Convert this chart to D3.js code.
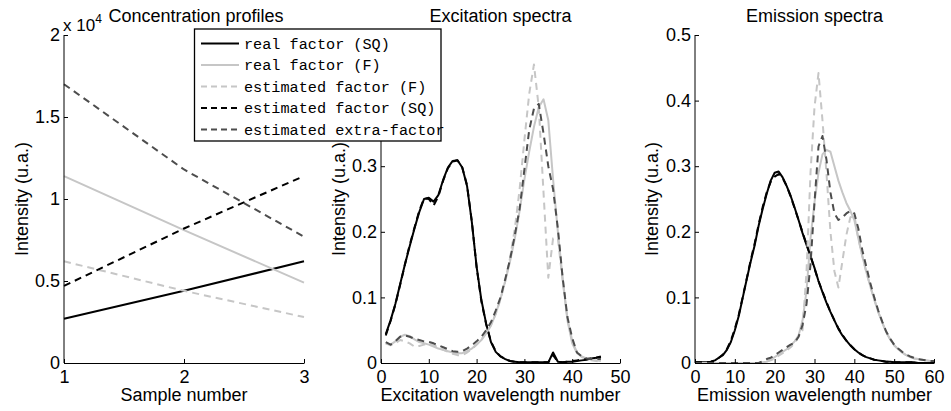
<!DOCTYPE html>
<html><head><meta charset="utf-8">
<script src="https://cdn.jsdelivr.net/npm/d3@7"></script>
<style>
body{margin:0;background:#fff}
svg{display:block}
text{font-family:"Liberation Sans",Arial,sans-serif;fill:#000}
text.mono{font-family:"Liberation Mono","Courier New",monospace}
</style>
</head><body>
<svg id="c" width="951" height="411"></svg>
<script>
// ---------- DATA ----------
const seriesNames = ["real factor (SQ)", "real factor (F)", "estimated factor (F)", "estimated factor (SQ)", "estimated extra-factor"];

// Concentration profiles (raw intensities)
const concSamples = [1, 2, 3];
const concRealSQ = [2700, 4400, 6200];
const concRealF  = [11400, 8100, 4900];
const concEstF   = [6200, 4400, 2800];
const concEstSQ  = [4700, 8200, 11400];
const concExtra  = [17000, 11800, 7700];
const concTicksX = [1, 2, 3];
const concTicksY = [0, 5000, 10000, 15000, 20000];

// Excitation spectra (wavelength numbers 1..46)
const excIndex = d3.range(1, 47);
const excRealSQ = [0.044,0.065,0.090,0.120,0.150,0.178,0.205,0.230,0.250,0.252,
                   0.246,0.256,0.279,0.298,0.308,0.309,0.298,0.270,0.215,0.147,
                   0.096,0.060,0.032,0.017,0.010,0.006,0.003,0.002,0.001,0.001,
                   0.001,0.001,0.001,0.001,0.001,0.016,0.002,0.001,0.002,0.002,
                   0.003,0.004,0.005,0.007,0.008,0.010];
const excRealF  = [0.030,0.028,0.033,0.040,0.043,0.041,0.036,0.032,0.030,0.028,
                   0.025,0.022,0.020,0.018,0.016,0.015,0.015,0.018,0.022,0.028,
                   0.035,0.045,0.057,0.075,0.098,0.125,0.155,0.190,0.232,0.280,
                   0.322,0.360,0.390,0.402,0.370,0.280,0.200,0.130,0.065,0.030,
                   0.015,0.010,0.007,0.005,0.004,0.003];
const excEstF   = [0.030,0.027,0.030,0.035,0.033,0.030,0.025,0.026,0.028,0.029,
                   0.027,0.024,0.020,0.017,0.014,0.012,0.012,0.016,0.021,0.028,
                   0.036,0.046,0.058,0.075,0.097,0.125,0.160,0.205,0.265,0.340,
                   0.410,0.455,0.390,0.260,0.130,0.190,0.190,0.125,0.068,0.034,
                   0.016,0.009,0.006,0.004,0.003,0.002];
const excEstSQ  = [0.042,0.064,0.089,0.119,0.150,0.180,0.206,0.232,0.251,0.250,
                   0.240,0.254,0.278,0.297,0.307,0.309,0.298,0.271,0.216,0.146,
                   0.094,0.059,0.033,0.018,0.010,0.006,0.003,0.002,0.001,0.001,
                   0.001,0.001,0.001,0.001,0.001,0.012,0.002,0.001,0.002,0.003,
                   0.004,0.005,0.006,0.007,0.008,0.009];
const excExtra  = [0.032,0.028,0.033,0.040,0.042,0.040,0.037,0.035,0.033,0.032,
                   0.030,0.027,0.024,0.021,0.018,0.017,0.018,0.022,0.027,0.033,
                   0.040,0.050,0.062,0.080,0.100,0.128,0.158,0.195,0.235,0.295,
                   0.355,0.388,0.395,0.350,0.300,0.265,0.205,0.130,0.070,0.038,
                   0.016,0.010,0.007,0.006,0.006,0.006];
const excTicksX = [0, 10, 20, 30, 40, 50];
const excTicksY = [0, 0.1, 0.2, 0.3];          // 0.4 and 0.5 sit under the legend
const emTicksY  = [0, 0.1, 0.2, 0.3, 0.4, 0.5];

// Emission spectra (wavelength numbers 0..60)
const emIndex = d3.range(0, 61);
const emRealSQ = [0.001,0.001,0.001,0.001,0.002,0.004,0.008,0.012,0.020,0.032,
                  0.050,0.072,0.100,0.128,0.155,0.180,0.210,0.235,0.258,0.278,
                  0.290,0.292,0.283,0.270,0.255,0.237,0.218,0.198,0.180,0.163,
                  0.145,0.125,0.108,0.092,0.078,0.065,0.052,0.042,0.034,0.027,
                  0.021,0.016,0.012,0.009,0.007,0.005,0.004,0.003,0.002,0.002,
                  0.001,0.001,0.001,0.001,0.001,0.001,0.000,0.000,0.000,0.000,0.000];
const emRealF  = [0,0,0,0,0,0,0,0,0,0,0,0,0,0,0,0,0,0.001,
                  0.002,0.005,0.009,0.013,0.017,0.021,0.026,0.033,0.042,0.065,
                  0.110,0.190,0.245,0.290,0.318,0.325,0.322,0.300,0.278,0.260,
                  0.244,0.232,0.218,0.190,0.163,0.139,0.117,0.097,0.078,0.062,
                  0.047,0.036,0.027,0.021,0.016,0.012,0.009,0.007,0.006,0.005,
                  0.004,0.003,0.003];
const emEstF   = [0,0,0,0,0,0,0,0,0,0,0,0,0,0,0,0,0,0.001,
                  0.002,0.004,0.007,0.011,0.015,0.019,0.024,0.030,0.040,0.050,
                  0.140,0.290,0.390,0.442,0.370,0.290,0.200,0.140,0.115,0.155,
                  0.195,0.222,0.225,0.190,0.163,0.139,0.117,0.097,0.078,0.062,
                  0.047,0.036,0.027,0.021,0.016,0.012,0.009,0.007,0.006,0.005,
                  0.004,0.003,0.003];
const emEstSQ  = [0.001,0.001,0.001,0.001,0.002,0.004,0.008,0.013,0.021,0.034,
                  0.052,0.074,0.101,0.129,0.157,0.183,0.212,0.238,0.260,0.276,
                  0.284,0.288,0.282,0.270,0.254,0.236,0.218,0.199,0.181,0.163,
                  0.144,0.125,0.109,0.093,0.078,0.065,0.053,0.043,0.034,0.027,
                  0.021,0.016,0.012,0.009,0.007,0.005,0.004,0.003,0.002,0.002,
                  0.001,0.001,0.001,0.001,0.001,0.001,0.000,0.000,0.000,0.000,0.000];
const emExtra  = [0,0,0,0,0,0,0,0,0,0,0,0,0,0,0,0,0,0.003,
                  0.006,0.008,0.012,0.016,0.020,0.024,0.028,0.031,0.040,0.058,
                  0.090,0.150,0.245,0.330,0.346,0.310,0.260,0.228,0.218,0.222,
                  0.228,0.232,0.228,0.205,0.172,0.147,0.122,0.100,0.080,0.063,
                  0.048,0.037,0.028,0.022,0.017,0.013,0.010,0.008,0.006,0.005,
                  0.004,0.003,0.003];
const emTicksX = [0, 10, 20, 30, 40, 50, 60];

// ---------- STYLES ----------
const styles = [
  {color:"#000000", dash:null,  w:2},
  {color:"#c6c6c6", dash:null,  w:2},
  {color:"#c6c6c6", dash:"7,5", w:2},
  {color:"#000000", dash:"7,5", w:2},
  {color:"#4d4d4d", dash:"7,5", w:2}
];

const svg = d3.select("#c");
const FS = 18;

function drawPanel(cfg){
  const x = d3.scaleLinear().domain(cfg.xDomain).range([cfg.left, cfg.right]);
  const y = d3.scaleLinear().domain(cfg.yDomain).range([cfg.bottom, cfg.top]);
  const g = svg.append("g");

  cfg.series.forEach((vals, k) => {
    const st = styles[k];
    const line = d3.line().x((d,i)=>x(cfg.xs[i])).y(d=>y(d));
    g.append("path").datum(vals)
      .attr("d", line)
      .attr("fill","none")
      .attr("stroke", st.color)
      .attr("stroke-width", st.w)
      .attr("stroke-linejoin","round")
      .attr("stroke-dasharray", st.dash);
  });

  const ax = d3.axisBottom(x).tickValues(cfg.ticksX).tickSizeInner(-4).tickSizeOuter(0).tickPadding(7)
      .tickFormat(d3.format("d"));
  const gx = g.append("g").attr("transform",`translate(0,${cfg.bottom})`).call(ax);
  const ay = d3.axisLeft(y).tickValues(cfg.ticksY).tickSizeInner(-4).tickSizeOuter(0).tickPadding(4)
      .tickFormat(cfg.fmtY);
  const gy = g.append("g").attr("transform",`translate(${cfg.left},0)`).call(ay);
  // the y axis line spans the full range even where ticks are omitted
  gy.select("path.domain").attr("d", `M0,${cfg.bottom}V${cfg.top}`);
  [gx, gy].forEach(a => {
    a.selectAll("path.domain").attr("stroke","#000").attr("stroke-width",1);
    a.selectAll(".tick line").attr("stroke","#000").attr("stroke-width",1);
    a.selectAll(".tick text").attr("font-size", FS).attr("fill","#000");
  });
  a = null;

  g.append("text").attr("x", cfg.titleX).attr("y", 22).attr("text-anchor","middle")
    .attr("font-size", FS).text(cfg.title);
  g.append("text").attr("x", (cfg.left+cfg.right)/2).attr("y", 401).attr("text-anchor","middle")
    .attr("font-size", FS).text(cfg.xlabel);
  g.append("text").attr("transform", `translate(${cfg.ylabelX},${(cfg.top+cfg.bottom)/2}) rotate(-90)`)
    .attr("text-anchor","middle").attr("font-size", FS).text("Intensity (u.a.)");
  return g;
}
var a;

drawPanel({
  left:64, right:304, top:35, bottom:363,
  xDomain:[1,3], yDomain:[0,20000],
  xs: concSamples,
  series:[concRealSQ, concRealF, concEstF, concEstSQ, concExtra],
  ticksX: concTicksX, ticksY: concTicksY,
  fmtY: d => String(d/10000),
  title:"Concentration profiles", titleX:196,
  xlabel:"Sample number", ylabelX:27.5
});
const ex = svg.append("text").attr("x",63).attr("y",31).attr("font-size",17);
ex.append("tspan").text("x 10");
ex.append("tspan").attr("font-size",12).attr("dy",-8).text("4");

drawPanel({
  left:381, right:620, top:35, bottom:363,
  xDomain:[0,50], yDomain:[0,0.5],
  xs: excIndex,
  series:[excRealSQ, excRealF, excEstF, excEstSQ, excExtra],
  ticksX: excTicksX, ticksY: excTicksY,
  fmtY: d => d===0 ? "0" : d3.format(".1f")(d),
  title:"Excitation spectra", titleX:500.5,
  xlabel:"Excitation wavelength number", ylabelX:345
});

drawPanel({
  left:695, right:934, top:35, bottom:363,
  xDomain:[0,60], yDomain:[0,0.5],
  xs: emIndex,
  series:[emRealSQ, emRealF, emEstF, emEstSQ, emExtra],
  ticksX: emTicksX, ticksY: emTicksY,
  fmtY: d => d===0 ? "0" : d3.format(".1f")(d),
  title:"Emission spectra", titleX:814.5,
  xlabel:"Emission wavelength number", ylabelX:658
});

// ---------- LEGEND ----------
const lg = svg.append("g");
lg.append("rect").attr("x",194.5).attr("y",29).attr("width",246.5).attr("height",112)
  .attr("fill","#fff").attr("stroke","#000").attr("stroke-width",1.3);
seriesNames.forEach((name, i) => {
  const yy = 43.5 + 21.5*i;
  const st = styles[i];
  lg.append("line").attr("x1",201).attr("x2",239).attr("y1",yy).attr("y2",yy)
    .attr("stroke",st.color).attr("stroke-width",st.w)
    .attr("stroke-dasharray", st.dash ? "6,4" : null);
  lg.append("text").attr("class","mono").attr("x",244).attr("y",yy).attr("dy","0.35em")
    .attr("font-size",15.2)
    .text(name);
});
</script>
</body></html>
